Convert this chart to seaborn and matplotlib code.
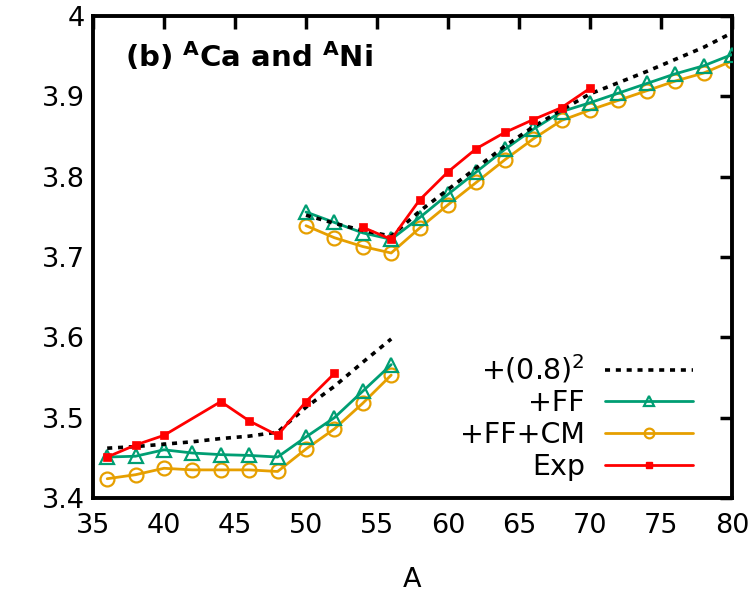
import numpy as np
import pandas as pd
import matplotlib
matplotlib.use("Agg")
import matplotlib.pyplot as plt
import seaborn as sns
from matplotlib.lines import Line2D

# ---- data ----
A_ca = [36, 38, 40, 42, 44, 46, 48, 50, 52, 54, 56]
fit_ca = [3.462, 3.464, 3.467, 3.470, 3.474, 3.477, 3.482, 3.513, 3.539, 3.569, 3.598]
ff_ca = [3.451, 3.452, 3.460, 3.456, 3.454, 3.453, 3.451, 3.476, 3.500, 3.533, 3.566]
cm_ca = [3.424, 3.429, 3.437, 3.435, 3.435, 3.435, 3.433, 3.461, 3.486, 3.518, 3.553]
A_ca_exp = [36, 38, 40, 44, 46, 48, 50, 52]
exp_ca = [3.451, 3.466, 3.478, 3.520, 3.496, 3.478, 3.520, 3.555]

A_ni = [50, 52, 54, 56, 58, 60, 62, 64, 66, 68, 70, 72, 74, 76, 78, 80]
fit_ni = [3.752, 3.742, 3.733, 3.726, 3.757, 3.784, 3.811, 3.838, 3.862, 3.883, 3.903,
          3.917, 3.931, 3.946, 3.961, 3.979]
ff_ni = [3.756, 3.743, 3.730, 3.722, 3.749, 3.778, 3.806, 3.834, 3.859, 3.881, 3.892,
         3.904, 3.916, 3.928, 3.938, 3.952]
cm_ni = [3.739, 3.724, 3.713, 3.705, 3.736, 3.765, 3.793, 3.821, 3.847, 3.870, 3.883,
         3.895, 3.907, 3.919, 3.929, 3.944]
A_ni_exp = [54, 56, 58, 60, 62, 64, 66, 68, 70]
exp_ni = [3.737, 3.722, 3.771, 3.806, 3.835, 3.855, 3.871, 3.886, 3.910]

labels = ["+(0.8)$^2$", "+FF", "+FF+CM", "Exp"]
xticks = [35, 40, 45, 50, 55, 60, 65, 70, 75, 80]
yticks = [3.4, 3.5, 3.6, 3.7, 3.8, 3.9, 4.0]
ytick_labels = ["3.4", "3.5", "3.6", "3.7", "3.8", "3.9", "4"]

GREEN = "#009e73"
ORANGE = "#e69f00"
RED = "#ff0000"

sns.set_style("white")
plt.rcParams["font.family"] = ["DejaVu Sans"]
plt.rcParams["text.color"] = "black"
plt.rcParams["axes.labelcolor"] = "black"
plt.rcParams["xtick.color"] = "black"
plt.rcParams["ytick.color"] = "black"

fig = plt.figure(figsize=(7.53, 5.98), dpi=100)
ax = fig.add_axes([93 / 753, 1 - 498 / 598, (732 - 93) / 753, (498 - 16) / 598])

def draw(x, y, **kw):
    sns.lineplot(x=x, y=y, ax=ax, estimator=None, sort=False, **kw)

for A, fit, ff, cm in [(A_ca, fit_ca, ff_ca, cm_ca), (A_ni, fit_ni, ff_ni, cm_ni)]:
    draw(A, fit, color="black", lw=2.6, dashes=(1.4, 1.6), zorder=4)
    draw(A, ff, color=GREEN, lw=2.0, marker="^", ms=10, mfc="none", mec=GREEN, mew=1.6, zorder=3)
    draw(A, cm, color=ORANGE, lw=2.0, marker="o", ms=10, mfc="none", mec=ORANGE, mew=1.6, zorder=2)

for A, e in [(A_ca_exp, exp_ca), (A_ni_exp, exp_ni)]:
    draw(A, e, color=RED, lw=2.0, marker="s", ms=6, mfc=RED, mec=RED, mew=0.5, zorder=5)

ax.set_xlim(35, 80)
ax.set_ylim(3.4, 4.0)
ax.set_xticks(xticks)
ax.set_xticklabels([str(t) for t in xticks])
ax.set_yticks(yticks)
ax.set_yticklabels(ytick_labels)
ax.tick_params(axis="both", which="major", direction="in", length=9, width=2.5,
               top=True, right=True, labelsize=19.5, colors="black", labelcolor="black")
ax.tick_params(axis="y", pad=6)
ax.tick_params(axis="x", pad=11)
for sp in ax.spines.values():
    sp.set_linewidth(2.8)
    sp.set_color("black")
    sp.set_visible(True)

ax.set_xlabel("A", fontsize=19.5, labelpad=20, color="black")
ax.set_ylabel("")

ax.text(0.05, 0.915, r"(b) $^{\mathbf{A}}$Ca and $^{\mathbf{A}}$Ni", transform=ax.transAxes,
        fontsize=21, fontweight="bold", ha="left", va="center", color="black")

handles = [
    Line2D([], [], color="black", lw=2.6, dashes=(1.4, 1.6)),
    Line2D([], [], color=GREEN, lw=2.0, marker="^", ms=7, mfc="none", mec=GREEN, mew=1.6),
    Line2D([], [], color=ORANGE, lw=2.0, marker="o", ms=7, mfc="none", mec=ORANGE, mew=1.6),
    Line2D([], [], color=RED, lw=2.0, marker="s", ms=5, mfc=RED, mec=RED),
]
leg = ax.legend(handles, labels, loc="lower right", bbox_to_anchor=(0.939, 0.036),
                frameon=False, markerfirst=False, fontsize=20.5, handlelength=3.1,
                handletextpad=0.7, labelspacing=0.13, numpoints=1,
                borderpad=0, borderaxespad=0, labelcolor="black")
for t in leg.get_texts():
    t.set_ha("right")

fig.savefig("out.png", dpi=100)
